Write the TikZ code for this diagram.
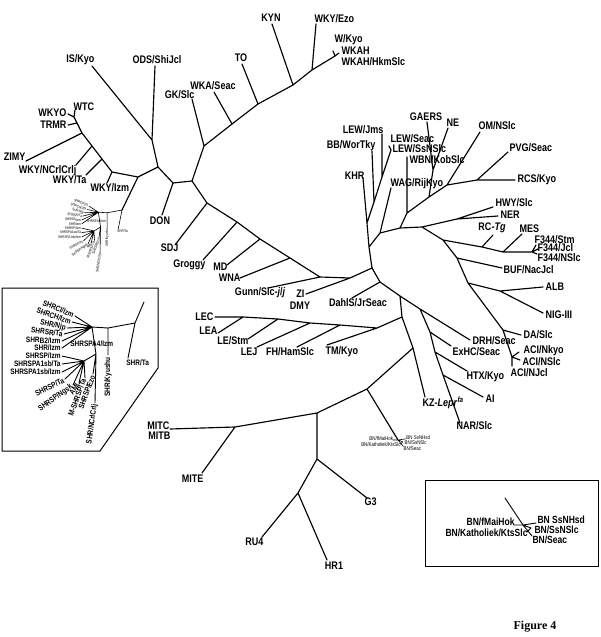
\documentclass[tikz,border=0pt]{standalone}
\usepackage{fontspec}
\setmainfont{Liberation Sans}[FakeStretch=0.82]
\newfontfamily\figfont{Liberation Serif}
\newcommand{\shrclade}{%
 \coordinate (ja) at (135,323);
 \coordinate (ta) at (128,358);
 \coordinate (jb) at (108,328);
 \coordinate (ky) at (108,355);
 \coordinate (jc) at (92,327);
 \coordinate (f1) at (75,316);
 \coordinate (f2) at (72,322);
 \coordinate (f3) at (67,328);
 \coordinate (f4) at (64,334);
 \coordinate (f5) at (62,341);
 \coordinate (f6) at (62,348);
 \coordinate (jd) at (96,354);
 \coordinate (je) at (84,361);
 \coordinate (nc) at (95,403);
 \coordinate (ez) at (93,374);
 \coordinate (g1) at (62,356);
 \coordinate (g2) at (62,364);
 \coordinate (g3) at (62,372);
 \coordinate (g4) at (65,379);
 \coordinate (g5) at (73,385);
 \coordinate (g6) at (79,383);
 \coordinate (g7) at (85,378);
 \draw[sbr] (ja)--(ta) (ja)--(jb)--(ky) (jb)--(jc)
   (jc)--(f1) (jc)--(f2) (jc)--(f3) (jc)--(f4) (jc)--(f5) (jc)--(f6)
   (jc)--(jd)--(je) (jd)--(nc) (jd)--(ez)
   (je)--(g1) (je)--(g2) (je)--(g3) (je)--(g4) (je)--(g5) (je)--(g6) (je)--(g7);
 \node[slab,anchor=north west] (n-ta) at (126,359) {SHR/Ta};
 \node[slab,rotate=90,anchor=east] (n-ky) at (108,357) {SHR/Kyushu};
 \node[slab,rotate=-22,anchor=east] (n-cl) at (74,315) {SHRCl/Izm};
 \node[slab,rotate=-19,anchor=east] (n-ch) at (71,322) {SHRCH/Izm};
 \node[slab,rotate=-13,anchor=east] (n-nj) at (66,328) {SHR/Njp};
 \node[slab,rotate=-7,anchor=east] (n-sr) at (63,334) {SHRSR/Ta};
 \node[slab,rotate=-2,anchor=east] (n-b2) at (61,341) {SHRB2/Izm};
 \node[slab,anchor=east] (n-iz) at (61,348) {SHR/Izm};
 \node[slab,anchor=west] (n-a4) at (70,344) {SHRSPA4/Izm};
 \node[slab,anchor=east] (n-spi) at (61,356) {SHRSP/Izm};
 \node[slab,anchor=east] (n-a1t) at (61,364) {SHRSPA1sb/Ta};
 \node[slab,anchor=east] (n-a1i) at (61,372) {SHRSPA1sb/Izm};
 \node[slab,rotate=26,anchor=east] (n-spt) at (64,380) {SHRSP/Ta};
 \node[slab,rotate=36,anchor=east] (n-ng) at (72,386) {SHRSP/Ngsk};
 \node[slab,rotate=55,anchor=east] (n-ami) at (78,384) {AMI};
 \node[slab,rotate=70,anchor=east] (n-msp) at (84,379) {M-SHRSP/Ta};
 \node[slab,rotate=70,anchor=east] (n-ez) at (93,375) {SHRSP/Ezo};
 \node[slab,rotate=82,anchor=east] (n-nc) at (95,404) {SHR/NCrlCrlj};
}
\newcommand{\bnclade}{%
 \coordinate (j) at (523,525);
 \coordinate (a) at (514,525);
 \coordinate (b) at (536,523);
 \coordinate (c) at (531,528);
 \coordinate (d) at (527,532);
 \coordinate (e) at (532,536);
 \draw[sbr] (j)--(a) (j)--(b) (j)--(c)--(d) (j)--(e);
 \node[blab,anchor=east] (n-fm) at (515,522) {BN/fMaiHok};
 \node[blab,anchor=west] (n-ss) at (537,520) {BN SsNHsd};
 \node[blab,anchor=west] (n-sn) at (534,530) {BN/SsNSlc};
 \node[blab,anchor=east] (n-ka) at (528,533) {BN/Katholiek/KtsSlc};
 \node[blab,anchor=west] (n-se) at (532,540) {BN/Seac};
}
\begin{document}
\begin{tikzpicture}[x=1pt,y=-1pt,
  br/.style={line width=1.15pt,line cap=round,line join=round},
  sbr/.style={line width=0.9pt,line cap=round,line join=round},
  lab/.style={inner sep=0.4pt,font=\fontsize{11}{12}\selectfont\bfseries},
  slab/.style={inner sep=0.2pt,font=\fontsize{7.9}{8.5}\selectfont\bfseries},
  blab/.style={inner sep=0.3pt,font=\fontsize{10.4}{11}\selectfont\bfseries},
  boxframe/.style={line width=1pt}]
\useasboundingbox (0,0) rectangle (600,637);
% ---------- coordinates: top part
\coordinate (K) at (293,85);
\coordinate (kyn) at (272,24);
\coordinate (wj) at (312,70);
\coordinate (wezo) at (316,24);
\coordinate (wk) at (335,56);
\coordinate (wkt1) at (333,51);
\coordinate (wkt2) at (339,53);
\coordinate (C2) at (258,104);
\coordinate (to) at (242,64);
\coordinate (C1) at (232,124);
\coordinate (wka) at (214,92);
\coordinate (G) at (204,146);
\coordinate (gk) at (192,99);
\coordinate (D2) at (192,181);
\coordinate (D1) at (173,183);
\coordinate (don) at (162,215);
\coordinate (A) at (158,167);
\coordinate (B) at (152,140);
\coordinate (is) at (92,66);
\coordinate (ods) at (155,66);
\coordinate (S0) at (138,177);
\coordinate (S1) at (122,210);
% WKY group
\coordinate (W0) at (112,172);
\coordinate (izm) at (107,183);
\coordinate (W1) at (102,159);
\coordinate (wta) at (86,175);
\coordinate (W2) at (92,146);
\coordinate (ncr) at (76,165);
\coordinate (W3) at (82,133);
\coordinate (zimy) at (26,161);
\coordinate (W4) at (77,123);
\coordinate (trmr) at (68,125);
\coordinate (W5) at (74,117);
\coordinate (wkyo) at (68,114);
\coordinate (wtc) at (75,110);
% backbone
\coordinate (E1) at (207,203);
\coordinate (sdj) at (175,245);
\coordinate (E2) at (237,222);
\coordinate (grog) at (203,260);
\coordinate (E3) at (260,239);
\coordinate (md) at (227,265);
\coordinate (E4) at (290,258);
\coordinate (wna) at (240,278);
\coordinate (E5) at (320,277);
\coordinate (gunn) at (268,288);
\coordinate (E6) at (350,278);
\coordinate (zi) at (306,294);
\coordinate (H) at (372,268);
% upper right
\coordinate (R0) at (369,247);
\coordinate (K1) at (367,223);
\coordinate (khr) at (363,178);
\coordinate (K2) at (374,202);
\coordinate (K3) at (382,177);
\coordinate (lews) at (391,150);
\coordinate (lewst) at (389,146);
\coordinate (bb) at (372,151);
\coordinate (lewj) at (382,134);
\coordinate (R1) at (380,233);
\coordinate (wag) at (391,188);
\coordinate (R2) at (400,228);
\coordinate (R3) at (407,213);
\coordinate (wbn) at (407,157);
\coordinate (R4) at (429,197);
\coordinate (N1) at (433,170);
\coordinate (gaers) at (427,122);
\coordinate (ne) at (448,128);
\coordinate (R5) at (447,185);
\coordinate (om) at (480,132);
\coordinate (R6) at (477,180);
\coordinate (pvg) at (508,152);
\coordinate (rcs) at (515,180);
\coordinate (R7) at (422,227);
\coordinate (R8) at (457,219);
\coordinate (hwy) at (493,207);
\coordinate (ner) at (498,216);
\coordinate (F1) at (443,240);
\coordinate (F2) at (482,247);
\coordinate (rctg) at (493,235);
\coordinate (F3) at (503,252);
\coordinate (mes) at (522,234);
\coordinate (F4) at (532,252);
\coordinate (fa) at (536,245);
\coordinate (fb) at (538,249);
\coordinate (fc) at (537,254);
\coordinate (B1) at (457,258);
\coordinate (buf) at (502,268);
\coordinate (B2) at (468,283);
\coordinate (A1) at (500,291);
\coordinate (alb) at (543,287);
\coordinate (nig) at (543,313);
\coordinate (Dd) at (503,330);
\coordinate (da) at (521,335);
\coordinate (acij) at (512,357);
\coordinate (acia) at (519,352);
\coordinate (acib) at (520,360);
\coordinate (acic) at (512,366);
% lower right
\coordinate (J1) at (380,282);
\coordinate (dahl) at (352,298);
\coordinate (Z1) at (400,296);
\coordinate (Z2) at (420,309);
\coordinate (drh) at (470,340);
\coordinate (L1) at (402,317);
\coordinate (M0) at (413,348);
\coordinate (kz) at (425,397);
\coordinate (X1) at (430,332);
\coordinate (exhc) at (451,346);
\coordinate (X2) at (435,352);
\coordinate (htx) at (467,371);
\coordinate (X3) at (443,375);
\coordinate (ai) at (483,397);
\coordinate (nar) at (460,423);
% LE group
\coordinate (L2) at (377,328);
\coordinate (tm) at (327,345);
\coordinate (L3) at (340,325);
\coordinate (fh) at (297,347);
\coordinate (L4) at (310,323);
\coordinate (lej) at (257,347);
\coordinate (L5) at (278,319);
\coordinate (lestm) at (248,339);
\coordinate (L6) at (243,317);
\coordinate (lea) at (218,333);
\coordinate (lec) at (215,317);
% MIT group
\coordinate (M1) at (367,389);
\coordinate (bn) at (398,440);
\coordinate (M2) at (317,413);
\coordinate (M3) at (235,427);
\coordinate (mitc) at (170,429);
\coordinate (mite) at (202,473);
\coordinate (M4) at (317,459);
\coordinate (g3) at (367,498);
\coordinate (M5) at (298,493);
\coordinate (ru4) at (262,537);
\coordinate (hr1) at (327,560);
% ---------- branches
\draw[br] (K)--(kyn) (K)--(wj)--(wezo) (wj)--(wk)--(wkt1) (wk)--(wkt2)
  (K)--(C2)--(to) (C2)--(C1)--(wka) (C1)--(G)--(gk) (G)--(D2)--(D1)--(don)
  (D1)--(A)--(B)--(is) (B)--(ods) (A)--(S0)--(W0) (S0)--(S1);
\draw[br] (W0)--(izm) (W0)--(W1)--(wta) (W1)--(W2)--(ncr) (W2)--(W3)--(zimy)
  (W3)--(W4)--(trmr) (W4)--(W5)--(wkyo) (W5)--(wtc);
\draw[br] (D2)--(E1)--(E2)--(E3)--(E4)--(E5)--(E6)--(H)
  (E1)--(sdj) (E2)--(grog) (E3)--(md) (E4)--(wna) (E5)--(gunn) (E6)--(zi);
\draw[br] (H)--(R0)--(K1)--(khr) (K1)--(K2)--(K3)--(lews)--(lewst) (K2)--(bb) (K3)--(lewj)
  (R0)--(R1)--(wag) (R1)--(R2)--(R3)--(wbn) (R3)--(R4)--(N1)--(gaers) (N1)--(ne)
  (R4)--(R5)--(om) (R5)--(R6)--(pvg) (R6)--(rcs)
  (R2)--(R7)--(R8)--(ner) (R8)--(hwy)
  (R7)--(F1)--(F2)--(F3)--(F4)--(fa) (F4)--(fb) (F4)--(fc) (F2)--(rctg) (F3)--(mes)
  (F1)--(B1)--(buf) (B1)--(B2)--(A1)--(alb) (A1)--(nig)
  (B2)--(Dd)--(da) (Dd)--(acij)--(acia) (acij)--(acib) (acij)--(acic);
\draw[br] (H)--(J1)--(Z1)--(Z2)--(drh) (J1)--(dahl) (Z1)--(L1)--(M0)--(kz)
  (Z2)--(X1)--(X2)--(X3)--(nar) (X1)--(exhc) (X2)--(htx) (X3)--(ai)
  (L1)--(L2)--(L3)--(L4)--(L5)--(L6)--(lec) (L6)--(lea) (L5)--(lestm) (L4)--(lej)
  (L3)--(fh) (L2)--(tm)
  (M0)--(M1)--(bn) (M1)--(M2)--(M3)--(mitc) (M3)--(mite)
  (M2)--(M4)--(g3) (M4)--(M5)--(ru4) (M5)--(hr1);
% ---------- labels
\node[lab,anchor=south] (t-kyn) at (271,22) {KYN};
\node[lab,anchor=south west] (t-wezo) at (314,23) {WKY/Ezo};
\node[lab,anchor=west] (t-wkyo2) at (334,40) {W/Kyo};
\node[lab,anchor=west] (t-wkah) at (341,51) {WKAH};
\node[lab,anchor=west] (t-wkahh) at (341,62) {WKAH/HkmSlc};
\node[lab,anchor=south] (t-to) at (241,62) {TO};
\node[lab,anchor=south] (t-wka) at (213,90) {WKA/Seac};
\node[lab,anchor=south east] (t-gk) at (195,99) {GK/Slc};
\node[lab,anchor=south east] (t-is) at (95,65) {IS/Kyo};
\node[lab,anchor=south] (t-ods) at (157,64) {ODS/ShiJcl};
\node[lab,anchor=north] (t-don) at (160,216) {DON};
\node[lab,anchor=north west] (t-izm) at (90,183) {WKY/Izm};
\node[lab,anchor=north east] (t-wta) at (87,175) {WKY/Ta};
\node[lab,anchor=north east] (t-ncr) at (77,165) {WKY/NCrlCrlj};
\node[lab,anchor=east] (t-zimy) at (26,157) {ZIMY};
\node[lab,anchor=east] (t-trmr) at (67,125) {TRMR};
\node[lab,anchor=east] (t-wkyo) at (67,113) {WKYO};
\node[lab,anchor=south west] (t-wtc) at (73,111) {WTC};
\node[lab,anchor=north east] (t-sdj) at (179,243) {SDJ};
\node[lab,anchor=north east] (t-grog) at (206,259) {Groggy};
\node[lab,anchor=east] (t-md) at (228,267) {MD};
\node[lab,anchor=east] (t-wna) at (241,278) {WNA};
\node[lab,anchor=north east] (t-gunn) at (286,287) {Gunn/Slc-\textit{j}/\textit{j}};
\node[lab,anchor=east] (t-zi) at (305,294) {ZI};
\node[lab,anchor=north] (t-dmy) at (300,301) {DMY};
\node[lab,anchor=north] (t-dahl) at (358,298) {DahlS/JrSeac};
\node[lab,anchor=south east] (t-khr) at (365,180) {KHR};
\node[lab,anchor=south east] (t-bb) at (376,151) {BB/WorTky};
\node[lab,anchor=south east] (t-lewj) at (384,134) {LEW/Jms};
\node[lab,anchor=south west] (t-lewse) at (390,143) {LEW/Seac};
\node[lab,anchor=west] (t-lews) at (392,149) {LEW/SsNSlc};
\node[lab,anchor=south west] (t-wag) at (390,189) {WAG/RijKyo};
\node[lab,anchor=west] (t-wbn) at (409,160) {WBN/KobSlc};
\node[lab,anchor=south] (t-gaers) at (426,121) {GAERS};
\node[lab,anchor=south west] (t-ne) at (446,127) {NE};
\node[lab,anchor=south west] (t-om) at (478,130) {OM/NSlc};
\node[lab,anchor=west] (t-pvg) at (509,148) {PVG/Seac};
\node[lab,anchor=west] (t-rcs) at (517,180) {RCS/Kyo};
\node[lab,anchor=west] (t-hwy) at (495,203) {HWY/Slc};
\node[lab,anchor=west] (t-ner) at (500,215) {NER};
\node[lab,anchor=south] (t-rctg) at (492,233) {RC-\textit{Tg}};
\node[lab,anchor=south west] (t-mes) at (519,233) {MES};
\node[lab,anchor=west] (t-fa) at (534,240) {F344/Stm};
\node[lab,anchor=west] (t-fb) at (537,248) {F344/Jcl};
\node[lab,anchor=west] (t-fc) at (537,258) {F344/NSlc};
\node[lab,anchor=west] (t-buf) at (503,270) {BUF/NacJcl};
\node[lab,anchor=west] (t-alb) at (545,287) {ALB};
\node[lab,anchor=west] (t-nig) at (545,315) {NIG-III};
\node[lab,anchor=west] (t-da) at (523,335) {DA/Slc};
\node[lab,anchor=west] (t-acia) at (523,351) {ACI/Nkyo};
\node[lab,anchor=west] (t-acib) at (522,362) {ACI/NSlc};
\node[lab,anchor=west] (t-acic) at (510,373) {ACI/NJcl};
\node[lab,anchor=west] (t-drh) at (472,341) {DRH/Seac};
\node[lab,anchor=west] (t-exhc) at (452,352) {ExHC/Seac};
\node[lab,anchor=north west] (t-htx) at (466,371) {HTX/Kyo};
\node[lab,anchor=west] (t-ai) at (485,399) {AI};
\node[lab,anchor=north west] (t-kz) at (422,396) {KZ-\textit{Lepr}\textsuperscript{\textit{fa}}};
\node[lab,anchor=north west] (t-nar) at (456,421) {NAR/Slc};
\node[lab,anchor=east] (t-lec) at (214,317) {LEC};
\node[lab,anchor=east] (t-lea) at (218,331) {LEA};
\node[lab,anchor=east] (t-lestm) at (249,341) {LE/Stm};
\node[lab,anchor=north east] (t-lej) at (258,347) {LEJ};
\node[lab,anchor=north] (t-fh) at (290,347) {FH/HamSlc};
\node[lab,anchor=north west] (t-tm) at (325,346) {TM/Kyo};
\node[lab,anchor=south east] (t-mitc) at (170,430) {MITC};
\node[lab,anchor=north east] (t-mitb) at (171,431) {MITB};
\node[lab,anchor=north east] (t-mite) at (204,474) {MITE};
\node[lab,anchor=north west] (t-g3) at (364,497) {G3};
\node[lab,anchor=north east] (t-ru4) at (264,537) {RU4};
\node[lab,anchor=north] (t-hr1) at (334,561) {HR1};
% ---------- tiny SHR clade in the tree
\begin{scope}[name prefix=tiny-,shift={(47.75,32.35)},scale=0.55,
   sbr/.style={line width=0.6pt,line cap=round},
   slab/.style={inner sep=0.1pt,font=\fontsize{3.7}{4}\selectfont}]
 \shrclade
\end{scope}
% ---------- tiny BN clade in the tree
\begin{scope}[name prefix=tbn-,shift={(94.7,135.5)},scale=0.58,
   sbr/.style={line width=0.6pt,line cap=round},
   blab/.style={inner sep=0.1pt,font=\fontsize{5.4}{6}\selectfont}]
 \bnclade
\end{scope}
% ---------- left inset
\coordinate (bx1) at (2,288);
\coordinate (bx2) at (158,288);
\coordinate (bx3) at (158,368);
\coordinate (bx4) at (100,451);
\coordinate (bx5) at (2,451);
\draw[boxframe] (bx1)--(bx2)--(bx3)--(bx4)--(bx5)--cycle;
\begin{scope}[name prefix=big-]
 \coordinate (stub) at (144,302);
 \shrclade
 \draw[sbr] (stub)--(ja);
\end{scope}
% ---------- right inset
\coordinate (rb1) at (425,480);
\coordinate (rb2) at (598,566);
\draw[boxframe] (rb1) rectangle (rb2);
\begin{scope}[name prefix=bbn-]
 \coordinate (stub) at (505,498);
 \bnclade
 \draw[sbr] (stub)--(j);
\end{scope}
\node[font=\figfont\bfseries\fontsize{12}{13}\selectfont,inner sep=0pt] (fig) at (535,627) {Figure 4};
\end{tikzpicture}
\end{document}
